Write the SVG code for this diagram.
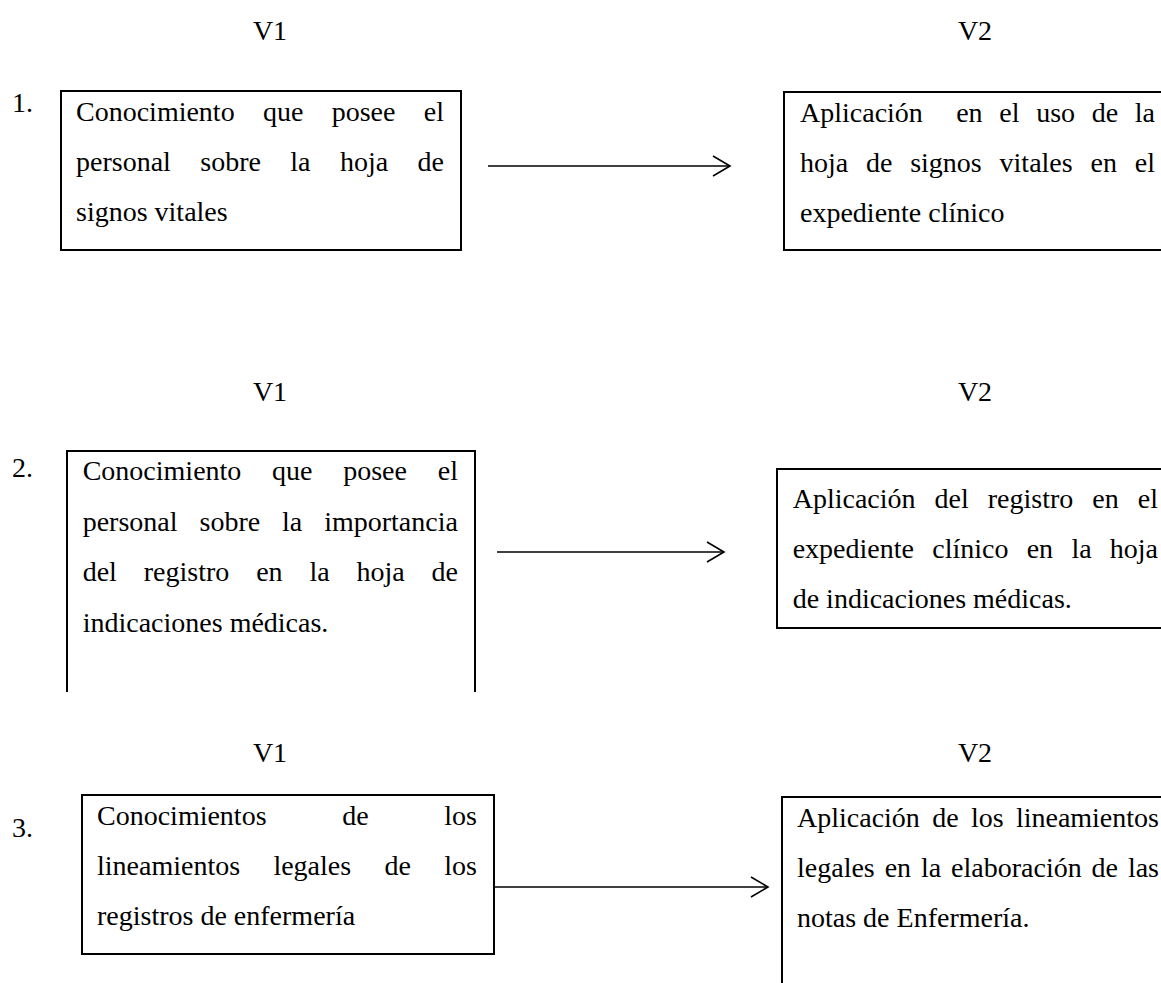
<svg xmlns="http://www.w3.org/2000/svg" width="1161" height="983" viewBox="0 0 1161 983">
<style>
text{font-family:"Liberation Serif","Times New Roman",serif;font-size:28px;fill:#000}
.box{fill:none;stroke:#000;stroke-width:2}
.conn{fill:none;stroke:#000;stroke-width:1.6}
</style>
<defs>
<marker id="open" markerUnits="userSpaceOnUse" markerWidth="20" markerHeight="24" refX="17" refY="11" orient="auto" overflow="visible">
<path d="M0,1 L17,11 L0,21" fill="none" stroke="#000" stroke-width="1.6"/>
</marker>
</defs>
<rect width="1161" height="983" fill="#fff"/>
<g id="labels">
<text x="270" y="40" text-anchor="middle">V1</text>
<text x="975" y="40" text-anchor="middle">V2</text>
<text x="12" y="112">1.</text>
<text x="270" y="401" text-anchor="middle">V1</text>
<text x="975" y="401" text-anchor="middle">V2</text>
<text x="12" y="477">2.</text>
<text x="270" y="762" text-anchor="middle">V1</text>
<text x="975" y="762" text-anchor="middle">V2</text>
<text x="12" y="837">3.</text>
</g>
<g id="v1-1">
<rect class="box" x="61" y="91" width="400" height="159"/>
<text y="121"><tspan x="76">Conocimiento</tspan><tspan x="263">que</tspan><tspan x="331.7">posee</tspan><tspan x="423.8">el</tspan></text>
<text y="171"><tspan x="76">personal</tspan><tspan x="200.3">sobre</tspan><tspan x="290.3">la</tspan><tspan x="339.9">hoja</tspan><tspan x="417.6">de</tspan></text>
<text x="76" y="221">signos vitales</text>
</g>
<g id="v2-1">
<rect class="box" x="784" y="92" width="400" height="158"/>
<text y="122"><tspan x="800">Aplicación</tspan><tspan x="956.2">en</tspan><tspan x="999.3">el</tspan><tspan x="1036.2">uso</tspan><tspan x="1091.8">de</tspan><tspan x="1134.8">la</tspan></text>
<text y="172"><tspan x="800">hoja</tspan><tspan x="866">de</tspan><tspan x="910.2">signos</tspan><tspan x="999.6">vitales</tspan><tspan x="1090.5">en</tspan><tspan x="1134.8">el</tspan></text>
<text x="800" y="222">expediente clínico</text>
</g>
<g id="v1-2">
<path class="box" d="M67,692 V451 H475 V692"/>
<text y="480"><tspan x="82.7">Conocimiento</tspan><tspan x="272.1">que</tspan><tspan x="343.2">posee</tspan><tspan x="437.8">el</tspan></text>
<text y="531"><tspan x="82.7">personal</tspan><tspan x="199.5">sobre</tspan><tspan x="282">la</tspan><tspan x="324.2">importancia</tspan></text>
<text y="581"><tspan x="82.7">del</tspan><tspan x="143.8">registro</tspan><tspan x="256.2">en</tspan><tspan x="309.5">la</tspan><tspan x="356.6">hoja</tspan><tspan x="431.6">de</tspan></text>
<text x="82.7" y="632">indicaciones médicas.</text>
</g>
<g id="v2-2">
<rect class="box" x="777" y="469" width="400" height="159"/>
<text y="508"><tspan x="792.7">Aplicación</tspan><tspan x="934.6">del</tspan><tspan x="987.8">registro</tspan><tspan x="1092.3">en</tspan><tspan x="1137.8">el</tspan></text>
<text y="558"><tspan x="792.7">expediente</tspan><tspan x="932.3">clínico</tspan><tspan x="1026.7">en</tspan><tspan x="1071.4">la</tspan><tspan x="1109.8">hoja</tspan></text>
<text x="792.7" y="608">de indicaciones médicas.</text>
</g>
<g id="v1-3">
<rect class="box" x="82" y="795" width="412" height="159"/>
<text y="825"><tspan x="97">Conocimientos</tspan><tspan x="342.3">de</tspan><tspan x="444.3">los</tspan></text>
<text y="875"><tspan x="97">lineamientos</tspan><tspan x="273.4">legales</tspan><tspan x="384.5">de</tspan><tspan x="444.3">los</tspan></text>
<text x="97" y="925">registros de enfermería</text>
</g>
<g id="v2-3">
<path class="box" d="M1175,797 H782 V990"/>
<text y="827"><tspan x="797">Aplicación</tspan><tspan x="932.2">de</tspan><tspan x="970.9">los</tspan><tspan x="1015.9">lineamientos</tspan></text>
<text y="877"><tspan x="797">legales</tspan><tspan x="884.7">en</tspan><tspan x="921">la</tspan><tspan x="951.1">elaboración</tspan><tspan x="1091.6">de</tspan><tspan x="1127.9">las</tspan></text>
<text x="797" y="927">notas de Enfermería.</text>
</g>
<g id="connectors">
<line class="conn" x1="488" y1="166" x2="730" y2="166" marker-end="url(#open)"/>
<line class="conn" x1="497" y1="552" x2="724" y2="552" marker-end="url(#open)"/>
<line class="conn" x1="494" y1="887" x2="768" y2="887" marker-end="url(#open)"/>
</g>
</svg>
